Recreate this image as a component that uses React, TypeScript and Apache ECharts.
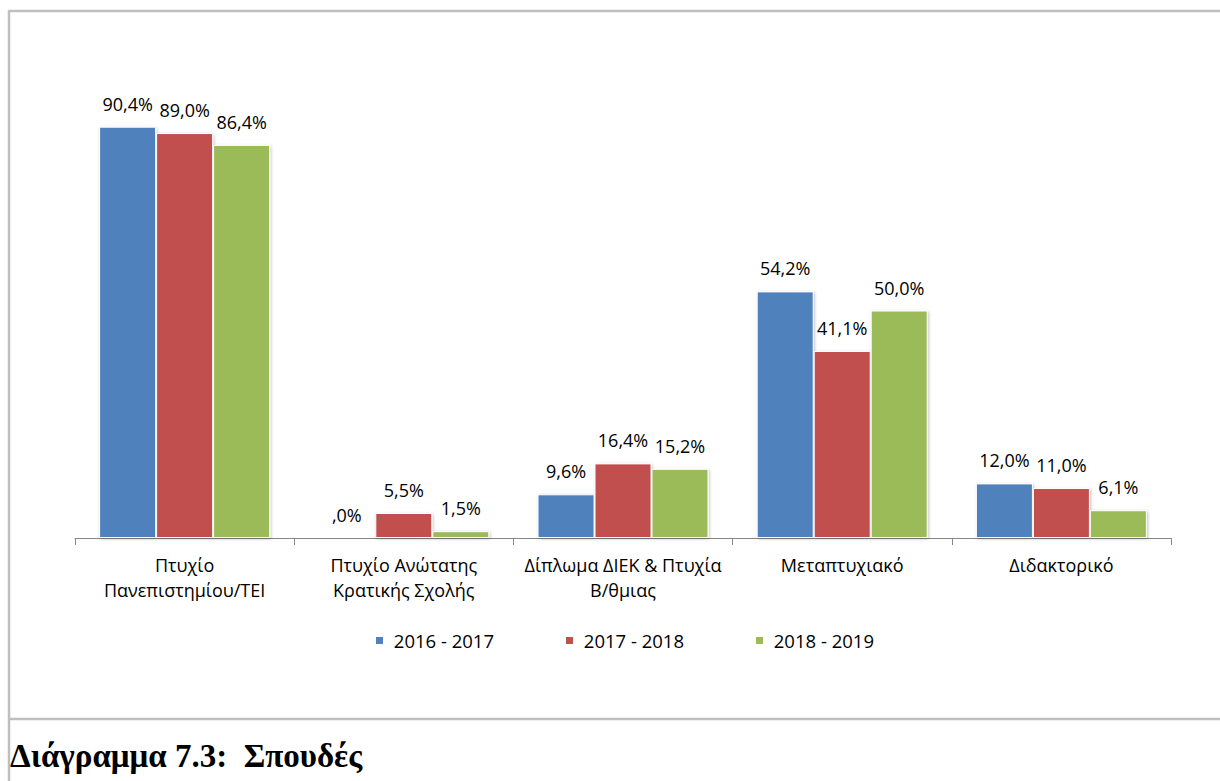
import React, { useEffect, useRef } from "react";
import * as echarts from "echarts";

const categories = [
  "Πτυχίο\nΠανεπιστημίου/ΤΕΙ",
  "Πτυχίο Ανώτατης\nΚρατικής Σχολής",
  "Δίπλωμα ΔΙΕΚ & Πτυχία\nΒ/θμιας",
  "Μεταπτυχιακό",
  "Διδακτορικό",
];
const seriesNames = ["2016 - 2017", "2017 - 2018", "2018 - 2019"];
const values2016 = [90.4, 0.0, 9.6, 54.2, 12.0];
const values2017 = [89.0, 5.5, 16.4, 41.1, 11.0];
const values2018 = [86.4, 1.5, 15.2, 50.0, 6.1];
const colors = ["#4F81BD", "#C0504D", "#9BBB59"];
const caption = "Διάγραμμα 7.3:  Σπουδές";

const fmt = (v: number) => v.toFixed(1).replace(".", ",").replace(/^0,/, ",") + "%";

export default function App() {
  const ref = useRef<HTMLDivElement>(null);
  useEffect(() => {
    if (!ref.current) return;
    const chart = echarts.init(ref.current, undefined, { renderer: "svg" });
    const font = "'Open Sans', sans-serif";
    const all = [values2016, values2017, values2018];
    chart.setOption({
      animation: false,
      backgroundColor: "#fff",
      textStyle: { fontFamily: font },
      grid: { left: 75, right: 49, top: 83, bottom: 243, containLabel: false },
      legend: {
        left: 369,
        top: 626,
        icon: "rect",
        itemWidth: 9,
        itemHeight: 9,
        itemGap: 70,
        formatter: (n: string) => " " + n,
        textStyle: { fontSize: 18.5, color: "#000", fontFamily: font },
        data: seriesNames,
      },
      xAxis: {
        type: "category",
        data: categories,
        axisLine: { lineStyle: { color: "#868686", width: 1 } },
        axisTick: { show: true, length: 7, lineStyle: { color: "#868686" } },
        axisLabel: {
          interval: 0,
          margin: 14,
          fontSize: 18,
          lineHeight: 25,
          color: "#000",
          fontFamily: font,
        },
      },
      yAxis: { type: "value", min: 0, max: 100, show: false, splitLine: { show: false } },
      series: seriesNames.map((name, i) => ({
        name,
        type: "bar",
        data: all[i],
        barWidth: 57,
        barGap: "0%",
        itemStyle: {
          color: colors[i],
          borderColor: "#fff",
          borderWidth: 1,
          shadowColor: "rgba(0,0,0,0.25)",
          shadowBlur: 3,
          shadowOffsetX: 1,
          shadowOffsetY: 1,
        },
        label: {
          show: true,
          position: "top",
          distance: 14,
          fontSize: 18,
          color: "#000",
          fontFamily: font,
          formatter: (p: any) => fmt(p.value),
        },
      })),
      graphic: [
        { type: "line", shape: { x1: 9, y1: 10, x2: 9, y2: 781 }, style: { stroke: "#bfbfbf", lineWidth: 2.5 } },
        { type: "line", shape: { x1: 9, y1: 11, x2: 1220, y2: 11 }, style: { stroke: "#bfbfbf", lineWidth: 2.5 } },
        { type: "line", shape: { x1: 9, y1: 719, x2: 1220, y2: 719 }, style: { stroke: "#bfbfbf", lineWidth: 2.5 } },
        {
          type: "text",
          left: 10,
          top: 739,
          style: {
            text: caption,
            font: "bold 33px 'Liberation Serif', 'Times New Roman', serif",
            fill: "#000",
          },
        },
      ],
    });
    return () => chart.dispose();
  }, []);
  return (
    <div
      ref={ref}
      style={{ position: "fixed", left: 0, top: 0, width: 1220, height: 781 }}
    />
  );
}
